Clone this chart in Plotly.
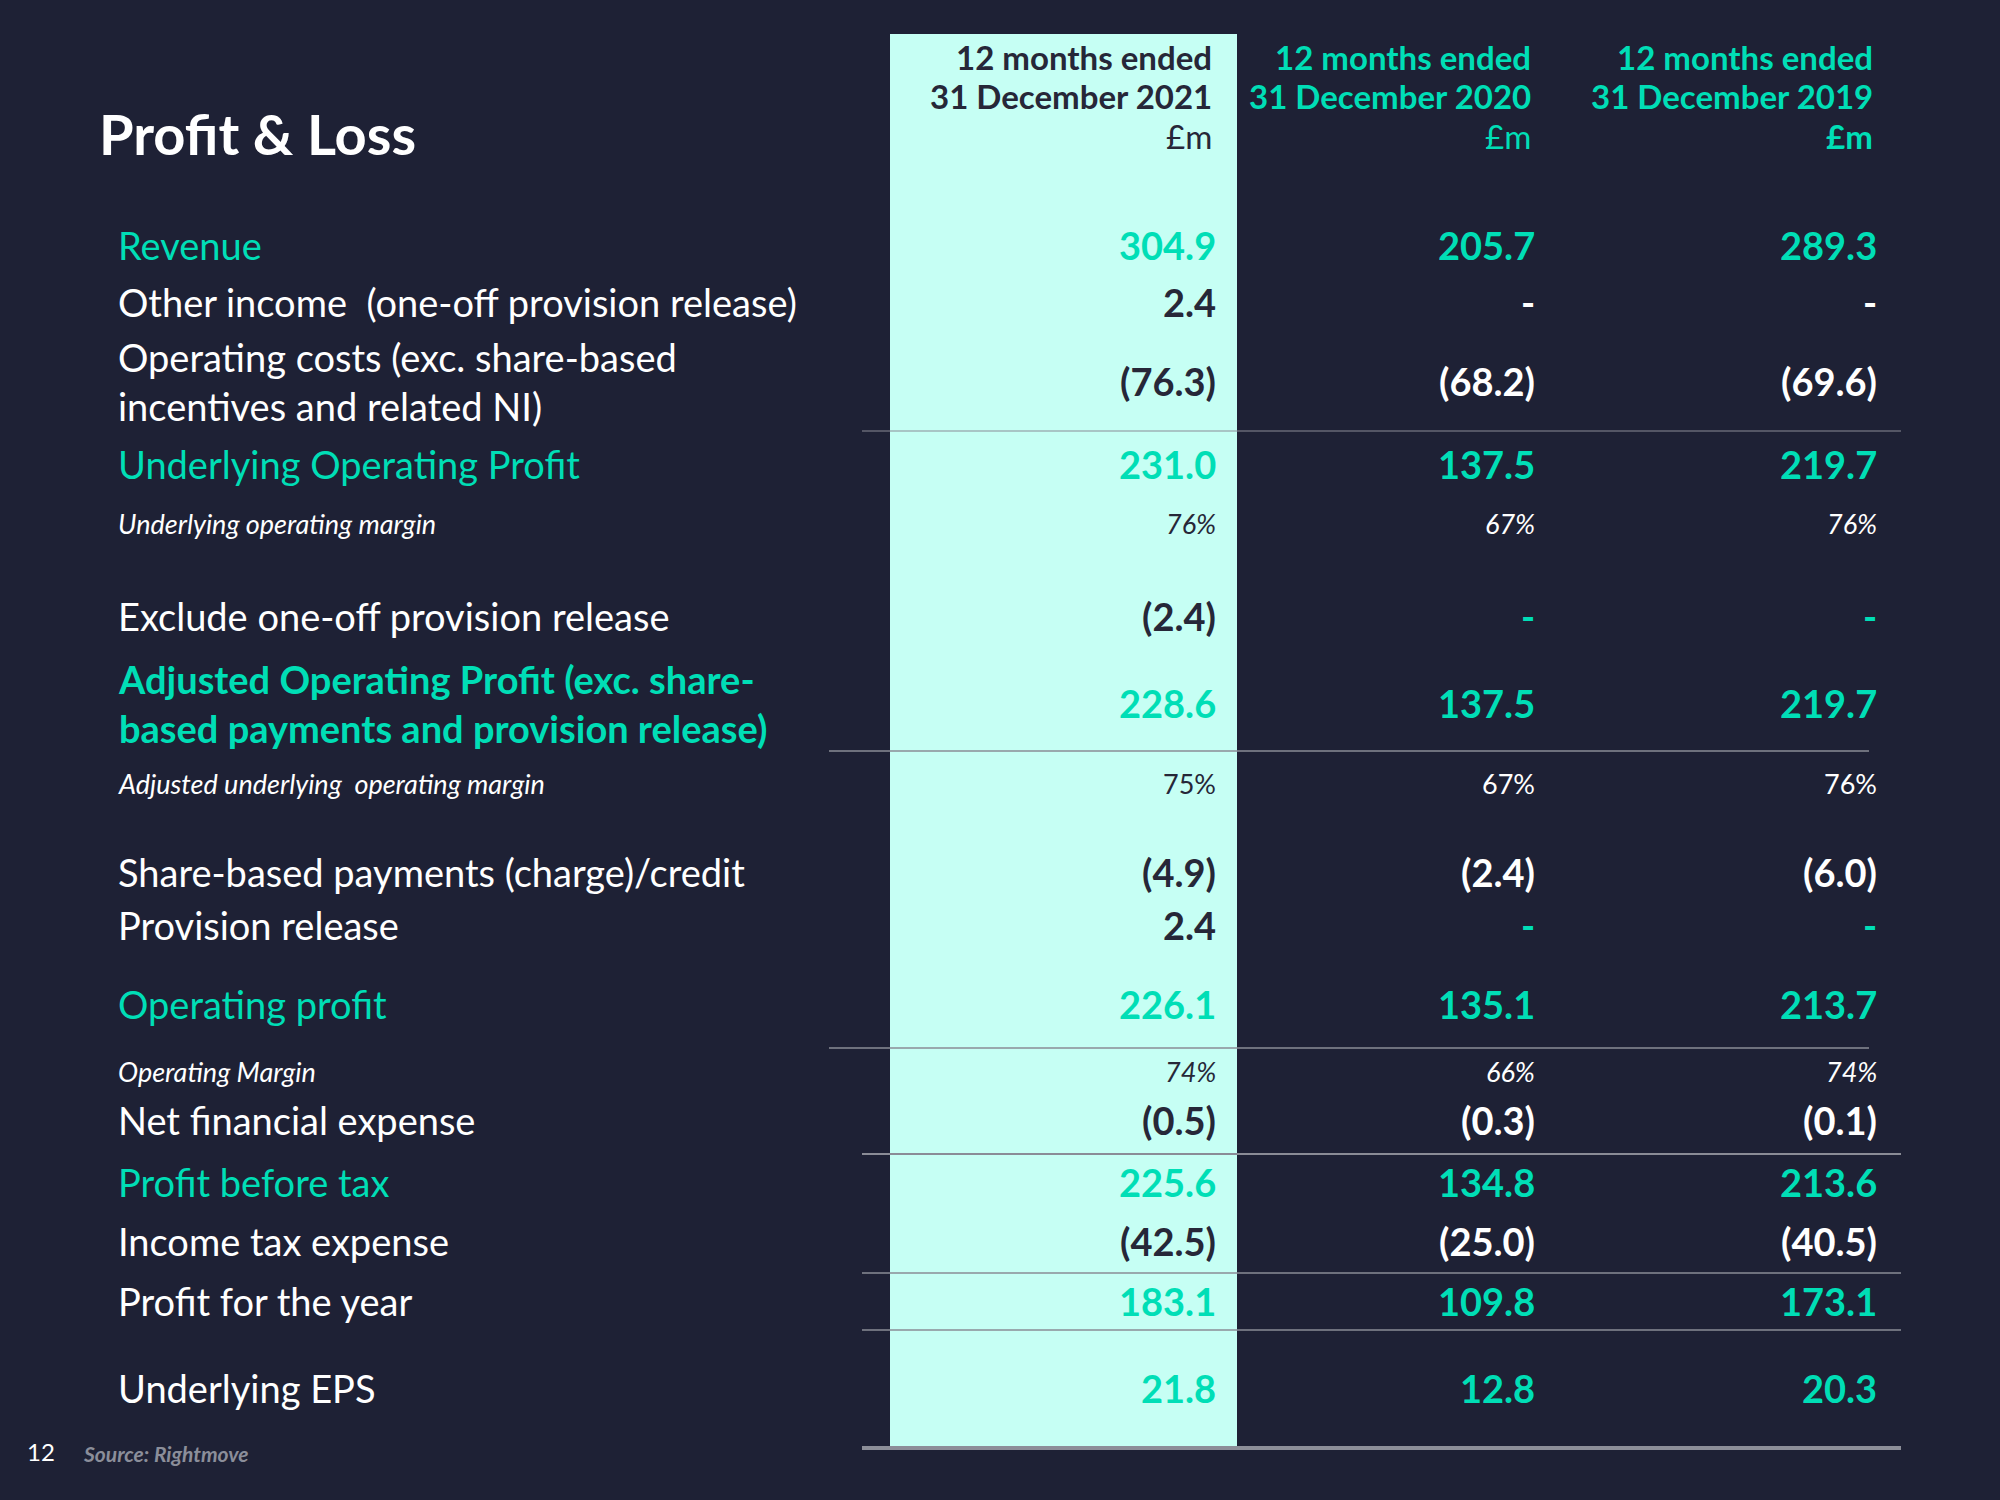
import plotly.graph_objects as go

# ---------------- data ----------------
title = "Profit & Loss"
col_header_l1 = ["12 months ended", "12 months ended", "12 months ended"]
col_header_l2 = ["31 December 2021", "31 December 2020", "31 December 2019"]
unit = "£m"

row_labels = [
    "Revenue",
    "Other income  (one-off provision release)",
    "Operating costs (exc. share-based<br>incentives and related NI)",
    "Underlying Operating Profit",
    "Underlying operating margin",
    "Exclude one-off provision release",
    "Adjusted Operating Profit (exc. share-<br>based payments and provision release)",
    "Adjusted underlying  operating margin",
    "Share-based payments (charge)/credit",
    "Provision release",
    "Operating profit",
    "Operating Margin",
    "Net financial expense",
    "Profit before tax",
    "Income tax expense",
    "Profit for the year",
    "Underlying EPS",
]
vals_2021 = ["304.9", "2.4", "(76.3)", "231.0", "76%", "(2.4)", "228.6", "75%", "(4.9)", "2.4",
             "226.1", "74%", "(0.5)", "225.6", "(42.5)", "183.1", "21.8"]
vals_2020 = ["205.7", "-", "(68.2)", "137.5", "67%", "-", "137.5", "67%", "(2.4)", "-",
             "135.1", "66%", "(0.3)", "134.8", "(25.0)", "109.8", "12.8"]
vals_2019 = ["289.3", "-", "(69.6)", "219.7", "76%", "-", "219.7", "76%", "(6.0)", "-",
             "213.7", "74%", "(0.1)", "213.6", "(40.5)", "173.1", "20.3"]
# label style: 't' teal, 'tb' bold teal, 'w' white, 'm' italic small
label_kind = ["t", "w", "w", "t", "m", "w", "tb", "m", "w", "w", "t", "m", "w", "t", "w", "w", "w"]
# value style: 't' teal, 'n' normal, 'm' margin
value_kind = ["t", "n", "n", "t", "m", "n", "t", "m", "n", "n", "t", "m", "n", "t", "n", "t", "t"]
dash_teal_rows = [5, 9]
upright_margin_rows = [7]
footer_page = "12"
footer_source = "Source: Rightmove"

# ---------------- layout / style ----------------
BG = "#1E2135"
TEAL = "#00DEB6"
PANEL = "#C6FFF4"
DARK = "#262738"
WHITE = "#FFFFFF"
GRID = "#8A8C96"
FONT = "Lato"

row_y = [245, 302, 381, 464, 523, 616, 703, 783, 872, 925, 1004, 1071, 1120, 1182, 1241, 1301, 1388]
col_right = [1218, 1537, 1879]
label_x = 116

fig = go.Figure()
fig.add_trace(go.Scatter(x=[0, 2000], y=[0, 1500], mode="markers",
                         marker=dict(opacity=0), hoverinfo="skip", showlegend=False))

shapes = []
shapes.append(dict(type="rect", xref="x", yref="y", x0=890, x1=1237, y0=34, y1=1447,
                   fillcolor=PANEL, line=dict(width=0), layer="below"))
for y, x0, x1, w, c in [
    (431, 862, 1901, 1.2, GRID),
    (751, 829, 1869, 1.5, GRID),
    (1048, 829, 1869, 1.5, GRID),
    (1154, 862, 1901, 2, GRID),
    (1273, 862, 1901, 1.5, GRID),
    (1330, 862, 1901, 1.5, GRID),
    (1448, 862, 1901, 4, "#8C8E98"),
]:
    shapes.append(dict(type="line", xref="x", yref="y", x0=x0, x1=x1, y0=y, y1=y,
                       line=dict(color=c, width=w), layer="above"))

ann = []
ann.append(dict(x=97, y=133, text=f"<b>{title}</b>", xanchor="left", yanchor="middle",
                font=dict(family=FONT, size=56, color=WHITE)))
hdr_colors = [DARK, TEAL, TEAL]
for i, xr in enumerate(col_right):
    for line_txt, y in [(col_header_l1[i], 57), (col_header_l2[i], 96)]:
        ann.append(dict(x=xr - 4, y=y, text=f"<b>{line_txt}</b>", xanchor="right", yanchor="middle",
                        font=dict(family=FONT, size=33, color=hdr_colors[i])))
    u = f"<b>{unit}</b>" if i == 2 else unit
    ann.append(dict(x=xr - 4, y=136, text=u, xanchor="right", yanchor="middle",
                    font=dict(family=FONT, size=33, color=hdr_colors[i])))

for lab, kind, y in zip(row_labels, label_kind, row_y):
    if kind == "t":
        txt, col, size = lab, TEAL, 38
    elif kind == "tb":
        txt, col, size = f"<b>{lab}</b>", TEAL, 38
    elif kind == "m":
        txt, col, size = f"<i>{lab}</i>", WHITE, 27
    else:
        txt, col, size = lab, WHITE, 38
    ann.append(dict(x=label_x, y=y, text=txt, xanchor="left", yanchor="middle", align="left",
                    font=dict(family=FONT, size=size, color=col)))

cols = [vals_2021, vals_2020, vals_2019]
for ci, (vals, xr) in enumerate(zip(cols, col_right)):
    for ri, (v, kind, y) in enumerate(zip(vals, value_kind, row_y)):
        if kind == "t":
            col = TEAL
        elif ci == 0:
            col = DARK
        else:
            col = WHITE
        if v == "-" and ri in dash_teal_rows:
            col = TEAL
        if kind == "m":
            txt = v if ri in upright_margin_rows else f"<i>{v}</i>"
            size = 27
        else:
            txt = f"<b>{v}</b>"
            size = 38
        ann.append(dict(x=xr, y=y, text=txt, xanchor="right", yanchor="middle",
                        font=dict(family=FONT, size=size, color=col)))

ann.append(dict(x=25, y=1451, text=footer_page, xanchor="left", yanchor="middle",
                font=dict(family=FONT, size=24, color=WHITE)))
ann.append(dict(x=81, y=1453, text=f"<b><i>{footer_source}</i></b>", xanchor="left", yanchor="middle",
                font=dict(family=FONT, size=21, color="#8B8E9A")))

for a in ann:
    a.update(xref="x", yref="y", showarrow=False)

fig.update_layout(
    width=2000, height=1500,
    margin=dict(l=0, r=0, t=0, b=0),
    paper_bgcolor=BG, plot_bgcolor=BG,
    xaxis=dict(range=[0, 2000], visible=False, fixedrange=True),
    yaxis=dict(range=[1500, 0], visible=False, fixedrange=True),
    shapes=shapes, annotations=ann, showlegend=False,
)
fig.write_html("out.html", config={"displayModeBar": False},
               post_script="document.body.style.margin='0';document.body.style.background='#1E2135';")
